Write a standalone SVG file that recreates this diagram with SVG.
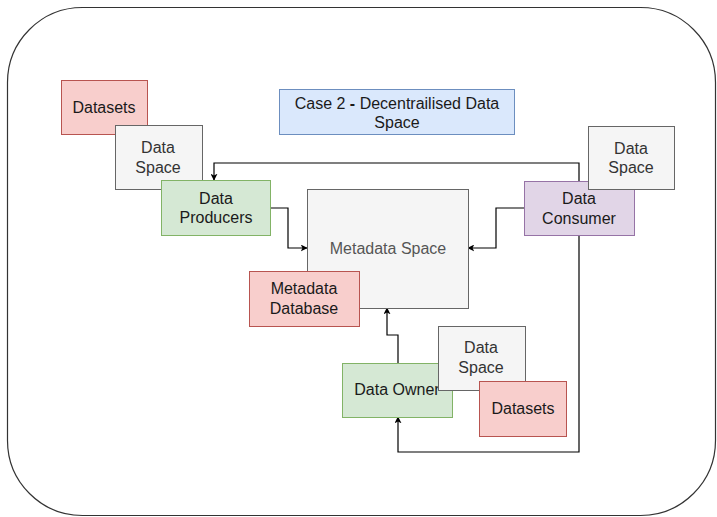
<svg xmlns="http://www.w3.org/2000/svg" width="717" height="517" viewBox="0 0 717 517">
  <defs>
    <marker id="arrow" viewBox="0 0 10 10" refX="9" refY="5" markerWidth="7" markerHeight="7" markerUnits="userSpaceOnUse" orient="auto">
      <path d="M0,0 L10,5 L0,10 L2.5,5 Z" fill="#000"/>
    </marker>
  </defs>
  <style>
    text { font-family: "Liberation Sans", Arial, Helvetica, sans-serif; font-size: 16px; text-anchor: middle; }
    .red rect { fill: #f8cecc; stroke: #b85450; }
    .grey rect { fill: #f5f5f5; stroke: #666666; }
    .green rect { fill: #d5e8d4; stroke: #82b366; }
    .blue rect { fill: #dae8fc; stroke: #6c8ebf; }
    .purple rect { fill: #e1d5e7; stroke: #9673a6; }
    .red text, .green text, .blue text, .purple text { fill: #1a1a1a; }
    .grey text { fill: #333333; }
    #metadata-space text { fill: #555555; }
    .edge { fill: none; stroke: #000; stroke-width: 1.2; marker-end: url(#arrow); }
  </style>

  <!-- outer frame -->
  <rect x="7.5" y="7.5" width="708" height="508" rx="75" ry="75" fill="#fff" stroke="#333" stroke-width="1.2"/>

  <g id="title" class="blue">
    <rect x="279.5" y="89.5" width="235" height="45"/>
    <text x="397" y="109">Case 2 <tspan font-weight="bold">-</tspan> Decentrailised Data</text>
    <text x="397" y="128">Space</text>
  </g>

  <!-- connectors -->
  <g id="connectors">
    <path class="edge" d="M579,181 V163 H214 V180"/>
    <path class="edge" d="M579,235 V452 H398 V417"/>
    <path class="edge" d="M270,208 H288 V248 H307"/>
    <path class="edge" d="M524,208 H496 V248 H468"/>
    <path class="edge" d="M398,363 V335 H387 V308"/>
  </g>

  <g id="datasets-left" class="red">
    <rect x="61.5" y="80.5" width="86" height="54"/>
    <text x="104" y="113">Datasets</text>
  </g>
  <g id="dataspace-left" class="grey">
    <rect x="115.5" y="125.5" width="87" height="64"/>
    <text x="158" y="153">Data</text>
    <text x="158" y="173">Space</text>
  </g>
  <g id="data-producers" class="green">
    <rect x="161.5" y="180.5" width="109" height="55"/>
    <text x="216" y="204">Data</text>
    <text x="216" y="223">Producers</text>
  </g>

  <g id="metadata-space" class="grey">
    <rect x="307.5" y="189.5" width="161" height="119"/>
    <text x="388" y="254">Metadata Space</text>
  </g>
  <g id="metadata-database" class="red">
    <rect x="249.5" y="271.5" width="110" height="55"/>
    <text x="304" y="294">Metadata</text>
    <text x="304" y="314">Database</text>
  </g>

  <g id="data-consumer" class="purple">
    <rect x="524.5" y="181.5" width="110" height="54"/>
    <text x="579" y="204">Data</text>
    <text x="579" y="224">Consumer</text>
  </g>
  <g id="dataspace-right" class="grey">
    <rect x="588.5" y="126.5" width="86" height="63"/>
    <text x="631" y="154">Data</text>
    <text x="631" y="173">Space</text>
  </g>

  <g id="data-owner" class="green">
    <rect x="342.5" y="363.5" width="110" height="54"/>
    <text x="397" y="395">Data Owner</text>
  </g>
  <g id="dataspace-bottom" class="grey">
    <rect x="438.5" y="326.5" width="87" height="64"/>
    <text x="481" y="353">Data</text>
    <text x="481" y="373">Space</text>
  </g>
  <g id="datasets-bottom" class="red">
    <rect x="479.5" y="381.5" width="87" height="55"/>
    <text x="523" y="414">Datasets</text>
  </g>
</svg>
